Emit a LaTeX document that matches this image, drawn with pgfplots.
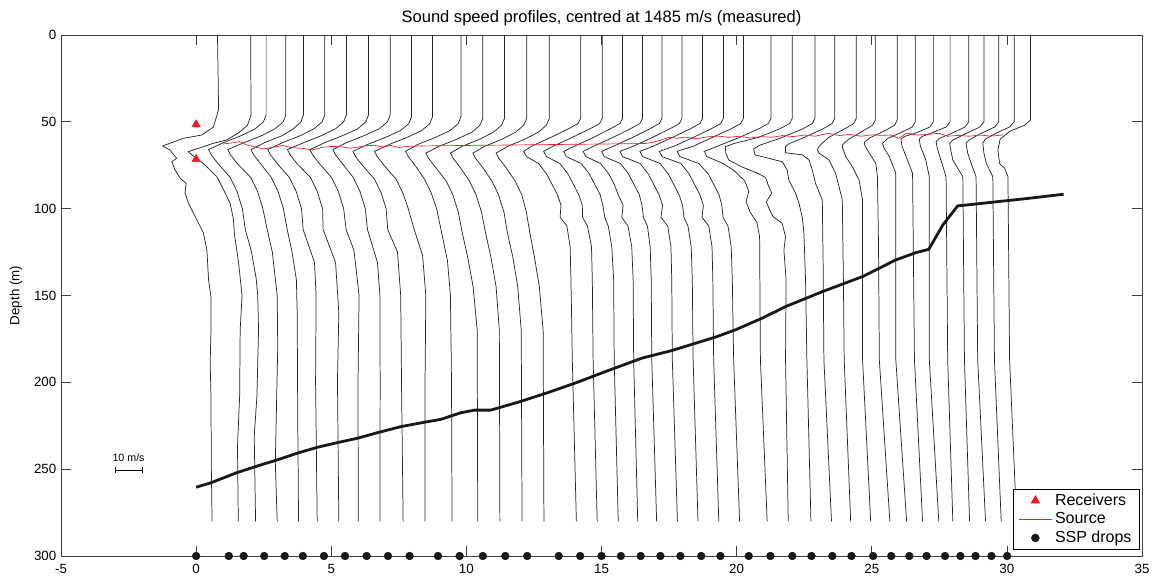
\documentclass[border=0pt]{standalone}
\usepackage{fontspec}
\setmainfont{Liberation Sans}
\usepackage{pgfplots}
\pgfplotsset{compat=1.18}
\definecolor{mred}{RGB}{237,28,36}
\pgfplotsset{
 legline/.style={legend image code/.code={\draw[##1] (0pt,0pt) -- (25pt,0pt);}},
 legmark/.style={legend image code/.code={\draw[mark repeat=2,mark phase=2,##1] plot coordinates {(0pt,0pt) (12.5pt,0pt) (25pt,0pt)};}},
}
\begin{document}
\begin{tikzpicture}
\useasboundingbox (-45.75pt,-18pt) rectangle (822pt,417pt);
\begin{axis}[
 at={(0,0)}, anchor=south west,
 scale only axis, width=810.75pt, height=390.75pt,
 xmin=-5, xmax=35, ymin=0, ymax=300, y dir=reverse,
 xtick={-5,0,...,35}, ytick={0,50,...,300},
 tick align=inside, major tick length=7.5pt,
 tick style={black!75, line width=0.5pt},
 axis line style={black!75, line width=0.6pt},
 every tick label/.append style={font=\fontsize{10}{12}\selectfont},
 xticklabel style={yshift=-2.5pt},
 /pgf/number format/assume math mode=true,
 title={Sound speed profiles, centred at 1485 m/s (measured)},
 title style={font=\fontsize{12.4}{14}\selectfont, yshift=-3pt},
 ylabel={Depth (m)}, ylabel style={font=\fontsize{10}{12}\selectfont, yshift=2pt},
 clip=false,
 legend style={at={(0.998,0.012)}, anchor=south east, draw=black, line width=0.5pt, font=\fontsize{12}{14}\selectfont, row sep=0pt, inner xsep=4pt, inner ysep=1.5pt, /tikz/every even column/.append style={column sep=2pt}},
 legend cell align=left,
 prof/.style={black!85, line width=0.55pt, forget plot},
]
% profiles
\addplot[prof] coordinates {(0.79,0) (0.82,30) (0.83,43) (0.64,53) (0.21,57.6) (-0.47,59.5) (-1.24,63.9) (-0.97,66.2) (-0.72,71) (-0.9,73) (-0.78,77.7) (-0.59,82.5) (-0.37,85.4) (-0.41,91) (-0.28,97) (0.03,106.5) (0.27,114) (0.40,124) (0.46,141) (0.55,151) (0.55,170) (0.52,189) (0.55,208) (0.56,246) (0.59,280)};
\addplot[prof] coordinates {(2.02,0) (2.03,46) (1.90,52) (1.60,56) (1.14,60.4) (0.6,62.5) (0.27,64.3) (-0.29,67.2) (-0.2,68.5) (0.27,74) (0.77,81.6) (1.01,89) (1.26,97) (1.38,106) (1.42,115) (1.57,131) (1.70,150) (1.63,170) (1.61,208) (1.53,237) (1.56,280)};
\addplot[prof] coordinates {(2.59,0) (2.59,46) (2.49,50) (2.19,54) (1.66,58) (1.01,62) (0.46,66) (0.56,69) (0.81,74) (1.26,82) (1.51,90) (1.71,100) (1.82,112) (2.05,125) (2.22,140) (2.28,150) (2.31,170) (2.25,208) (2.15,231) (2.2,280)};
\addplot[prof] coordinates {(3.32,0) (3.32,46) (3.22,50) (2.92,54) (2.42,58) (1.77,62) (1.17,66) (1.27,69) (1.52,74) (2.02,82) (2.27,90) (2.47,100) (2.63,112) (2.82,125) (3.0,150) (3.02,180) (2.93,246) (3.0,280)};
\addplot[prof] coordinates {(3.97,0) (3.97,46) (3.88,50) (3.6,54) (3.18,58) (2.53,62) (2.03,66) (2.13,69) (2.38,74) (2.78,82) (3.03,90) (3.23,100) (3.37,112) (3.55,125) (3.71,141) (3.74,160) (3.76,220) (3.79,280)};
\addplot[prof] coordinates {(4.76,0) (4.76,46) (4.66,50) (4.36,54) (3.85,58) (3.2,62) (2.65,66) (2.75,69) (3.0,74) (3.45,82) (3.7,90) (3.9,100) (3.96,112) (4.38,131) (4.44,150) (4.42,200) (4.48,280)};
\addplot[prof] coordinates {(5.56,0) (5.56,46) (5.46,50) (5.16,54) (4.63,58) (3.98,62) (3.38,66) (3.48,69) (3.73,74) (4.23,82) (4.48,90) (4.68,100) (4.70,112) (5.16,131) (5.28,160) (5.23,199) (5.28,280)};
\addplot[prof] coordinates {(6.38,0) (6.38,46) (6.28,50) (5.98,54) (5.41,58) (4.76,62) (4.21,66) (4.31,69) (4.56,74) (5.01,82) (5.26,90) (5.46,100) (5.55,112) (5.84,124) (6.03,150) (5.99,200) (6.0,280)};
\addplot[prof] coordinates {(7.18,0) (7.18,46) (7.08,50) (6.78,54) (6.21,58) (5.56,62) (5.06,66) (5.16,69) (5.41,74) (5.81,82) (6.06,90) (6.26,100) (6.34,112) (6.71,131) (6.80,150) (6.81,200) (6.80,280)};
\addplot[prof] coordinates {(7.97,0) (7.97,47) (7.87,51) (7.57,55) (7.0,59) (6.35,63) (5.8,67) (5.9,70) (6.15,75) (6.6,83) (6.85,91) (7.03,100) (7.09,112) (7.45,125) (7.57,150) (7.6,200) (7.66,280)};
\addplot[prof] coordinates {(8.75,0) (8.75,47) (8.65,51) (8.35,55) (7.8,59) (7.15,63) (6.6,67) (6.7,70) (6.95,75) (7.4,83) (7.65,91) (7.85,100) (8.07,112) (8.38,127) (8.50,150) (8.47,200) (8.47,280)};
\addplot[prof] coordinates {(9.80,0) (9.80,47) (9.70,51) (9.40,55) (8.85,59) (8.2,63) (7.75,67) (7.85,70) (8.1,75) (8.45,83) (8.7,91) (8.9,100) (9.06,112) (9.3,130) (9.41,150) (9.45,200) (9.47,280)};
\addplot[prof] coordinates {(10.61,0) (10.61,48) (10.5,52) (10.2,56) (9.65,60) (9.0,64) (8.5,68) (8.6,71) (8.85,76) (9.25,84) (9.5,92) (9.7,102) (9.85,114) (10.05,128) (10.25,145) (10.4,170) (10.42,280)};
\addplot[prof] coordinates {(11.41,0) (11.41,48) (11.3,52) (11.0,56) (10.5,60) (9.86,64) (9.41,68) (9.51,71) (9.76,76) (10.11,84) (10.36,92) (10.56,102) (10.71,114) (10.91,128) (11.1,145) (11.22,170) (11.24,280)};
\addplot[prof] coordinates {(12.23,0) (12.23,48) (12.12,52) (11.82,56) (11.32,60) (10.69,64) (10.24,68) (10.34,71) (10.59,76) (10.94,84) (11.19,92) (11.39,102) (11.52,114) (11.72,128) (11.9,145) (12.03,170) (12.06,280)};
\addplot[prof] coordinates {(13.07,0) (13.07,48) (12.96,52) (12.66,56) (12.16,60) (11.55,64) (11.1,68) (11.2,71) (11.45,76) (11.8,84) (12.05,92) (12.22,102) (12.35,114) (12.52,128) (12.7,145) (12.84,170) (12.87,280)};
\addplot[prof] coordinates {(14.23,0) (14.23,48) (14.13,51) (13.78,54) (13.12,59) (12.42,64) (12.12,67) (12.22,70) (12.67,74) (12.97,80) (13.17,86) (13.37,92) (13.50,98) (13.47,105) (13.72,110) (13.84,122) (13.87,141) (13.92,187) (14.07,280)};
\addplot[prof] coordinates {(15.03,0) (15.03,48) (14.93,51) (14.58,54) (13.91,59) (13.21,64) (12.86,67) (12.96,70) (13.46,74) (13.76,80) (13.96,86) (14.16,92) (14.29,98) (14.3,105) (14.48,110) (14.63,122) (14.66,141) (14.69,187) (14.84,280)};
\addplot[prof] coordinates {(15.78,0) (15.78,48) (15.68,51) (15.33,54) (14.7,59) (14.0,64) (13.6,67) (13.7,70) (14.25,74) (14.55,80) (14.75,86) (14.95,92) (15.05,98) (15.12,105) (15.25,110) (15.38,122) (15.45,141) (15.47,187) (15.62,280)};
\addplot[prof] coordinates {(16.52,0) (16.52,48) (16.42,51) (16.07,54) (15.42,59) (14.72,64) (14.32,67) (14.42,70) (14.97,74) (15.27,80) (15.47,86) (15.62,92) (15.8,98) (15.75,105) (15.98,110) (16.12,122) (16.17,141) (16.19,187) (16.34,280)};
\addplot[prof] coordinates {(17.24,0) (17.24,48) (17.14,51) (16.79,54) (16.15,59) (15.45,64) (15.0,67) (15.1,70) (15.7,74) (16.0,80) (16.2,86) (16.4,92) (16.5,98) (16.55,105) (16.7,110) (16.8,122) (16.84,141) (16.86,187) (17.04,280)};
\addplot[prof] coordinates {(17.98,0) (17.98,48) (17.88,51) (17.53,54) (16.88,59) (16.18,64) (15.68,67) (15.78,70) (16.43,74) (16.73,80) (16.93,86) (17.13,92) (17.26,98) (17.2,105) (17.45,110) (17.57,122) (17.6,141) (17.62,187) (17.81,280)};
\addplot[prof] coordinates {(18.74,0) (18.74,48) (18.64,51) (18.29,54) (17.62,59) (16.92,64) (16.42,67) (16.52,70) (17.17,74) (17.47,80) (17.67,86) (17.87,92) (18.0,98) (18.05,105) (18.2,110) (18.32,122) (18.36,141) (18.39,187) (18.57,280)};
\addplot[prof] coordinates {(19.51,0) (19.51,48) (19.41,51) (19.06,54) (18.39,59) (17.69,64) (17.14,67) (17.24,70) (17.94,74) (18.24,80) (18.44,86) (18.64,92) (18.77,98) (18.72,105) (18.97,110) (19.09,122) (19.12,141) (19.15,187) (19.34,280)};
\addplot[prof] coordinates {(20.25,0) (20.25,48) (20.15,51) (19.8,54) (19.1,59) (18.4,64) (17.8,67) (17.9,70) (18.6,74) (18.95,80) (19.15,86) (19.35,92) (19.45,98) (19.5,105) (19.68,110) (19.8,122) (19.84,141) (19.89,187) (20.11,280)};
\addplot[prof] coordinates {(21.27,0) (21.27,48) (21.17,51) (20.82,54) (20.1,59) (19.3,64) (18.8,67) (18.9,70) (19.5,74) (19.9,78) (20.3,84) (20.45,90) (20.35,96) (20.5,102) (20.75,108) (20.85,116) (20.86,141) (20.88,187) (21.13,280)};
\addplot[prof] coordinates {(22.06,0) (22.06,48) (21.96,51) (21.6,54) (20.8,59) (19.9,62.5) (19.58,64.3) (19.6,68) (19.71,72) (20.2,76) (20.76,79.5) (21.07,82) (21.19,87.3) (21.3,91) (21.1,96) (21.2,100) (21.35,104.6) (21.68,108.4) (21.81,116) (21.75,124) (21.83,141) (21.81,187) (21.91,280)};
\addplot[prof] coordinates {(22.90,0) (22.90,48) (22.8,51) (22.45,54) (21.6,59.5) (20.85,63.5) (20.63,65.5) (20.68,69) (21.19,71) (21.69,73) (21.87,77.7) (21.93,83.5) (22.18,91) (22.31,97) (22.43,105) (22.49,114) (22.55,141) (22.6,187) (22.75,280)};
\addplot[prof] coordinates {(23.63,0) (23.63,48) (23.53,51) (23.2,54) (22.5,59) (21.95,62.5) (21.81,64.3) (21.81,67.8) (22.43,69) (22.68,72) (22.80,77.7) (22.92,85.4) (23.17,95) (23.2,130) (23.23,187) (23.51,280)};
\addplot[prof] coordinates {(24.43,0) (24.43,48) (24.33,51) (24.0,54) (23.4,59) (23.05,64) (22.99,66.2) (23.05,68) (23.42,72) (23.66,79.6) (23.79,87.3) (23.91,95) (23.95,140) (23.98,187) (24.22,280)};
\addplot[prof] coordinates {(25.13,0) (25.13,49) (25.03,52) (24.7,55) (24.15,60) (23.93,63) (23.91,64.5) (24.04,70) (24.28,75.8) (24.53,83.5) (24.66,95) (24.66,187) (24.96,280)};
\addplot[prof] coordinates {(25.94,0) (25.94,49) (25.84,52) (25.5,55) (24.95,59) (24.74,61.5) (24.72,63) (24.91,68) (25.15,74) (25.21,81.6) (25.25,120) (25.28,187) (25.67,280)};
\addplot[prof] coordinates {(26.61,0) (26.61,50) (26.5,53) (26.1,56) (25.6,59.5) (25.4,62.3) (25.45,65) (25.65,70) (25.89,79.6) (25.89,187) (26.29,280)};
\addplot[prof] coordinates {(27.28,0) (27.28,50) (27.15,53) (26.7,56) (26.2,58.5) (26.08,60) (26.12,64) (26.27,70) (26.51,79.6) (26.58,187) (26.88,280)};
\addplot[prof] coordinates {(27.90,0) (27.90,50) (27.75,53) (27.2,56.5) (26.85,58.5) (26.76,60) (26.8,64) (27.0,72) (27.13,81.6) (27.13,187) (27.48,280)};
\addplot[prof] coordinates {(28.59,0) (28.59,50) (28.45,53) (27.9,57) (27.5,59.5) (27.38,61.4) (27.42,65) (27.56,72) (27.75,81.6) (27.81,187) (28.0,280)};
\addplot[prof] coordinates {(29.15,0) (29.15,50) (29.0,53) (28.45,57) (28.0,60.5) (27.88,62.3) (27.92,66) (28.0,72) (28.37,81.6) (28.43,187) (28.62,280)};
\addplot[prof] coordinates {(29.70,0) (29.70,50) (29.55,53) (29.0,57) (28.6,60.5) (28.49,62.3) (28.55,68) (28.68,74) (28.86,81.6) (28.92,187) (29.21,280)};
\addplot[prof] coordinates {(30.27,0) (30.27,50) (30.1,53) (29.6,56.5) (29.2,60) (29.11,62.3) (29.15,68) (29.24,74) (29.48,81.6) (29.54,187) (29.79,280)};
\addplot[prof] coordinates {(30.87,0) (30.87,49) (30.65,52) (30.1,55.5) (29.75,60) (29.67,66.2) (29.73,74) (29.92,76.8) (30.04,81.6) (30.10,187) (30.36,280)};
% bathymetry
\addplot[black!90, line width=2.1pt, forget plot] coordinates {(0,260.4) (0.52,258) (1.51,252) (2.38,247.6) (3.0,244.7) (3.74,240.8) (4.49,237.4) (5.23,234.7) (5.97,232.2) (6.71,229) (7.58,225.5) (8.44,223) (9.06,221.3) (9.80,217.5) (10.3,216) (10.9,216) (11.9,211.5) (13.0,206) (14.1,200) (15.2,193.5) (16.49,186.1) (17.6,181.7) (19.21,174) (19.95,169.8) (20.94,163.1) (21.81,156.4) (23.17,147.8) (24.66,139.1) (25.89,129.5) (26.64,125.3) (27.11,123.4) (27.63,109.4) (28.18,98.4) (28.86,97.3) (30.6,94.4) (32.1,91.7)};
% source
\addplot[mred, line width=0.5pt, forget plot] coordinates {(1.01,62.7) (1.3,62.2) (1.6,61.4) (1.9,63.5) (2.1,64.2) (2.5,65.6) (2.8,64.8) (3.2,63.6) (3.5,64.8) (3.9,65.2) (4.3,66.2) (4.7,64.6) (5.0,64.2) (5.35,64.3) (5.7,65.2) (6.0,64.5) (6.3,63.8) (6.6,63.5) (6.9,64.5) (7.2,63.6) (7.5,64.8) (7.8,64.2) (8.26,63.9) (16.6,62.5) (16.9,61.8) (17.2,60.5) (17.5,58.9) (17.8,59.5) (18.1,58.8) (18.5,59.8) (18.9,58.7) (19.3,58.2) (19.7,58.9) (20.1,58.3) (20.5,59.3) (20.9,58.5) (21.3,58.9) (21.7,57.9) (22.1,58.5) (22.5,57.6) (22.9,58.3) (23.4,56.6) (23.8,57.9) (24.2,57.2) (24.6,58.3) (25.0,57.5) (25.4,57.8) (25.7,57.6) (26.0,59.5) (26.3,56.5) (26.7,57.6) (27.1,57.2) (27.5,56.6) (27.8,58.3) (28.2,57.8) (28.6,58.3) (29.0,57.6) (29.4,58.2) (29.85,57.6)};
% receivers
\addplot[only marks, mark=triangle*, mark size=3.6pt, mark options={fill=mred, draw=mred}, forget plot] coordinates {(0,51.5) (0,71.5)};
% SSP drops
\addplot[only marks, mark=*, mark size=2.9pt, black!90, forget plot] coordinates {(0,300) (1.21,300) (1.76,300) (2.52,300) (3.28,300) (3.95,300) (4.73,300) (5.51,300) (6.31,300) (7.10,300) (7.90,300) (8.95,300) (9.75,300) (10.61,300) (11.44,300) (12.25,300) (13.42,300) (14.21,300) (15.00,300) (15.72,300) (16.45,300) (17.18,300) (17.92,300) (18.69,300) (19.40,300) (20.45,300) (21.25,300) (22.06,300) (22.77,300) (23.54,300) (24.25,300) (25.05,300) (25.72,300) (26.39,300) (27.03,300) (27.71,300) (28.28,300) (28.84,300) (29.43,300) (30.01,300)};
% scale bar
\addplot[black, line width=0.5pt, mark=|, mark size=2pt, forget plot] coordinates {(-3,250.5) (-2,250.5)};
\node[font=\fontsize{8}{10}\selectfont] at (axis cs:-2.5,243.5) {10 m/s};
% legend
\addlegendimage{legmark, only marks, mark=triangle*, mark size=3.6pt, mark options={fill=mred, draw=mred}}
\addlegendentry{Receivers}
\addlegendimage{legline, draw=mred, line width=0.5pt}
\addlegendentry{Source}
\addlegendimage{legmark, only marks, mark=*, mark size=2.9pt, draw=black!90, fill=black!90}
\addlegendentry{SSP drops}
\end{axis}
\end{tikzpicture}
\end{document}
